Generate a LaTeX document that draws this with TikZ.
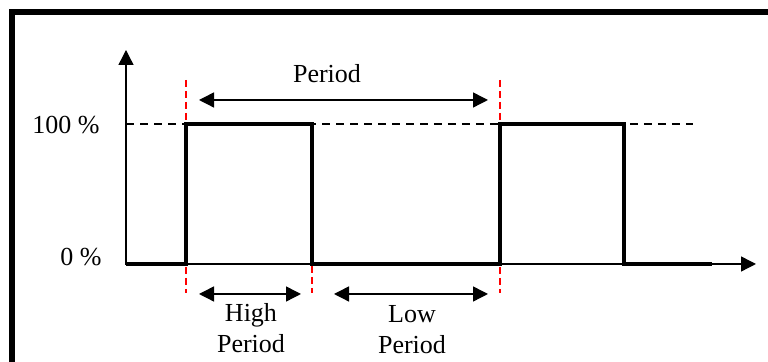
\documentclass[tikz,border=0pt]{standalone}
\usepackage{fontspec}
\setmainfont{Liberation Serif}
\usetikzlibrary{arrows.meta}
\begin{document}
\begin{tikzpicture}[x=0.5pt,y=-0.5pt,
  lbl/.style={inner sep=0pt,font=\fontsize{13}{15.5}\selectfont},
  axis/.style={line width=0.7pt,-{Triangle[length=7.5pt,width=7.5pt]}},
  sig/.style={line width=1.6pt,line join=miter},
  dim/.style={line width=0.7pt,{Triangle[length=7.5pt,width=7.5pt]}-{Triangle[length=7.5pt,width=7.5pt]}},
  refline/.style={line width=0.55pt,dash pattern=on 4pt off 3pt},
  edge/.style={red,line width=0.6pt,dash pattern=on 3.5pt off 2pt}]
\useasboundingbox (0,0) rectangle (768,362);
% frame
\draw[line width=3pt] (12,370) -- (12,12.5) -- (780,12.5);
% coordinates
\coordinate (o) at (126,264);
\coordinate (ytip) at (126,50);
\coordinate (xtip) at (756,264);
\coordinate (hl) at (126,124);
\coordinate (hr) at (693,124);
\coordinate (r1) at (186,264);
\coordinate (r1t) at (186,124);
\coordinate (f1t) at (312,124);
\coordinate (f1) at (312,264);
\coordinate (r2) at (500,264);
\coordinate (r2t) at (500,124);
\coordinate (f2t) at (624,124);
\coordinate (f2) at (624,264);
\coordinate (send) at (712,264);
% red edge markers (behind the signal)
\coordinate (e1a) at (186,80);  \coordinate (e1b) at (186,293);
\coordinate (e2a) at (312,266); \coordinate (e2b) at (312,293);
\coordinate (e3a) at (500,80);  \coordinate (e3b) at (500,293);
\draw[edge] (e1a) -- (e1b);
\draw[edge] (e2a) -- (e2b);
\draw[edge] (e3a) -- (e3b);
% 100% dashed reference
\draw[refline] (hl) -- (hr);
% axes
\draw[axis] (126,265) -- (ytip);
\draw[axis] (o) -- (xtip);
% signal
\draw[sig] (o) -- (r1) -- (r1t) -- (f1t) -- (f1) -- (r2) -- (r2t) -- (f2t) -- (f2) -- (send);
% dimension arrows
\coordinate (pa) at (199,100); \coordinate (pb) at (488,100);
\coordinate (ha) at (199,294); \coordinate (hb) at (301,294);
\coordinate (la) at (334,294); \coordinate (lb) at (488,294);
\draw[dim] (pa) -- (pb);
\draw[dim] (ha) -- (hb);
\draw[dim] (la) -- (lb);
% labels
\node[lbl,anchor=base] (period) at (327,83) {Period};
\node[lbl,anchor=east] (p100) at (100,125) {100 \%};
\node[lbl,anchor=east] (p0) at (102,257) {0 \%};
\node[lbl,anchor=north,align=center] (high) at (251,303) {High\\Period};
\node[lbl,anchor=north,align=center] (low) at (412,305) {Low\\Period};
\end{tikzpicture}
\end{document}
